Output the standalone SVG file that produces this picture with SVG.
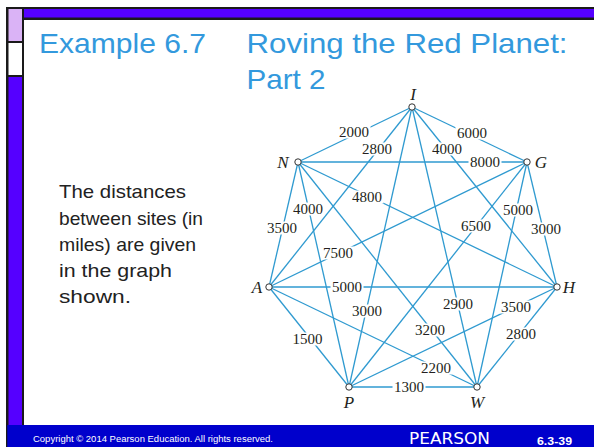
<svg xmlns="http://www.w3.org/2000/svg" width="594" height="447" viewBox="0 0 594 447">
<style>
.e{stroke:#2f9ad0;stroke-width:1.3;fill:none}
.lb{fill:#fff}
.w{font-family:"Liberation Serif",serif;font-size:15px;fill:#231f20;text-anchor:middle}
.n{font-family:"Liberation Serif",serif;font-style:italic;font-size:17px;fill:#231f20;text-anchor:middle}
.nd{fill:#fff;stroke:#333;stroke-width:1}
.t{font-family:"Liberation Sans",sans-serif;font-size:28px;fill:#3399dd}
.b{font-family:"Liberation Sans",sans-serif;font-size:19px;fill:#222}
</style>
<rect x="0" y="0" width="594" height="447" fill="#fff"/>
<g id="frame">
<rect x="6" y="7" width="588" height="13" fill="#1a1a1a"/>
<rect x="24" y="9" width="570" height="8.5" fill="#5500ff"/>
<rect x="6" y="7" width="18" height="418" fill="#1a1a1a"/>
<rect x="8.5" y="9" width="13.5" height="32" fill="#dab3f6"/>
<rect x="8.5" y="43" width="13.5" height="32" fill="#fff"/>
<rect x="8.5" y="77" width="13.5" height="348" fill="#5500ff"/>
<rect x="6" y="425" width="588" height="22" fill="#0000cc"/>
<rect x="6" y="425" width="1.3" height="22" fill="#1a1a1a"/>
</g>
<g id="title">
<text class="t" x="39" y="53" textLength="167" lengthAdjust="spacingAndGlyphs">Example 6.7</text>
<text class="t" x="246.5" y="53" textLength="321" lengthAdjust="spacingAndGlyphs">Roving the Red Planet:</text>
<text class="t" x="246.5" y="88.5" textLength="79" lengthAdjust="spacingAndGlyphs">Part 2</text>
</g>
<g id="body">
<text class="b" x="59" y="198" textLength="127" lengthAdjust="spacingAndGlyphs">The distances</text>
<text class="b" x="59" y="224.5" textLength="144" lengthAdjust="spacingAndGlyphs">between sites (in</text>
<text class="b" x="59" y="250.5" textLength="137" lengthAdjust="spacingAndGlyphs">miles) are given</text>
<text class="b" x="59" y="277" textLength="113" lengthAdjust="spacingAndGlyphs">in the graph</text>
<text class="b" x="59" y="303" textLength="72" lengthAdjust="spacingAndGlyphs">shown.</text>
</g>
<g id="connectors">
<line class="e" x1="412" y1="107" x2="298" y2="162"/>
<line class="e" x1="412" y1="107" x2="527" y2="162"/>
<line class="e" x1="412" y1="107" x2="269" y2="287"/>
<line class="e" x1="412" y1="107" x2="557" y2="287"/>
<line class="e" x1="412" y1="107" x2="349" y2="387"/>
<line class="e" x1="412" y1="107" x2="477" y2="387"/>
<line class="e" x1="298" y1="162" x2="527" y2="162"/>
<line class="e" x1="298" y1="162" x2="269" y2="287"/>
<line class="e" x1="298" y1="162" x2="349" y2="387"/>
<line class="e" x1="298" y1="162" x2="557" y2="287"/>
<line class="e" x1="298" y1="162" x2="477" y2="387"/>
<line class="e" x1="527" y1="162" x2="269" y2="287"/>
<line class="e" x1="527" y1="162" x2="349" y2="387"/>
<line class="e" x1="527" y1="162" x2="477" y2="387"/>
<line class="e" x1="527" y1="162" x2="557" y2="287"/>
<line class="e" x1="269" y1="287" x2="557" y2="287"/>
<line class="e" x1="269" y1="287" x2="349" y2="387"/>
<line class="e" x1="269" y1="287" x2="477" y2="387"/>
<line class="e" x1="349" y1="387" x2="557" y2="287"/>
<line class="e" x1="477" y1="387" x2="557" y2="287"/>
<line class="e" x1="349" y1="387" x2="477" y2="387"/>
</g>
<g id="edge-labels">
<rect class="lb" x="337.5" y="125.5" width="33" height="13"/><text class="w" x="354" y="137">2000</text>
<rect class="lb" x="455.5" y="126.5" width="33" height="13"/><text class="w" x="472" y="138">6000</text>
<rect class="lb" x="360.5" y="142.5" width="33" height="13"/><text class="w" x="377" y="154">2800</text>
<rect class="lb" x="430.5" y="142.5" width="33" height="13"/><text class="w" x="447" y="154">4000</text>
<rect class="lb" x="350.5" y="304.5" width="33" height="13"/><text class="w" x="367" y="316">3000</text>
<rect class="lb" x="441.5" y="297.5" width="33" height="13"/><text class="w" x="458" y="309">2900</text>
<rect class="lb" x="468.5" y="155.5" width="33" height="13"/><text class="w" x="485" y="167">8000</text>
<rect class="lb" x="265.5" y="221.5" width="33" height="13"/><text class="w" x="282" y="233">3500</text>
<rect class="lb" x="291.5" y="202.5" width="33" height="13"/><text class="w" x="308" y="214">4000</text>
<rect class="lb" x="350.5" y="190.5" width="33" height="13"/><text class="w" x="367" y="202">4800</text>
<rect class="lb" x="413.5" y="323.5" width="33" height="13"/><text class="w" x="430" y="335">3200</text>
<rect class="lb" x="321.5" y="246.5" width="33" height="13"/><text class="w" x="338" y="258">7500</text>
<rect class="lb" x="459.5" y="219.5" width="33" height="13"/><text class="w" x="476" y="231">6500</text>
<rect class="lb" x="501.5" y="203.5" width="33" height="13"/><text class="w" x="518" y="215">5000</text>
<rect class="lb" x="529.5" y="222.5" width="33" height="13"/><text class="w" x="546" y="234">3000</text>
<rect class="lb" x="330.5" y="280.5" width="33" height="13"/><text class="w" x="347" y="292">5000</text>
<rect class="lb" x="291" y="332.5" width="33" height="13"/><text class="w" x="307.5" y="344">1500</text>
<rect class="lb" x="419.5" y="361.5" width="33" height="13"/><text class="w" x="436" y="373">2200</text>
<rect class="lb" x="499.5" y="300.5" width="33" height="13"/><text class="w" x="516" y="312">3500</text>
<rect class="lb" x="504.5" y="327.5" width="33" height="13"/><text class="w" x="521" y="339">2800</text>
<rect class="lb" x="392.5" y="380.5" width="33" height="13"/><text class="w" x="409" y="392">1300</text>
</g>
<g id="node-I"><circle class="nd" cx="412" cy="107" r="3.2"/><text class="n" x="413" y="99.5">I</text></g>
<g id="node-N"><circle class="nd" cx="298" cy="162" r="3.2"/><text class="n" x="283" y="167.5">N</text></g>
<g id="node-G"><circle class="nd" cx="527" cy="162" r="3.2"/><text class="n" x="541" y="167.5">G</text></g>
<g id="node-A"><circle class="nd" cx="269" cy="287" r="3.2"/><text class="n" x="257" y="292.5">A</text></g>
<g id="node-H"><circle class="nd" cx="557" cy="287" r="3.2"/><text class="n" x="569" y="292.5">H</text></g>
<g id="node-P"><circle class="nd" cx="349" cy="387" r="3.2"/><text class="n" x="349" y="407.5">P</text></g>
<g id="node-W"><circle class="nd" cx="477" cy="387" r="3.2"/><text class="n" x="477" y="407.5">W</text></g>
<g id="footer">
<text x="33" y="442" font-family="Liberation Sans,sans-serif" font-size="8.5" fill="#fff" textLength="240" lengthAdjust="spacingAndGlyphs">Copyright © 2014  Pearson Education. All rights reserved.</text>
<text x="409" y="444" font-family="DejaVu Sans,sans-serif" font-size="15" fill="#fff" textLength="81" lengthAdjust="spacingAndGlyphs">PEARSON</text>
<text x="537" y="444.5" font-family="Liberation Sans,sans-serif" font-weight="bold" font-size="10" fill="#fff" textLength="35" lengthAdjust="spacingAndGlyphs">6.3-39</text>
</g>
</svg>
